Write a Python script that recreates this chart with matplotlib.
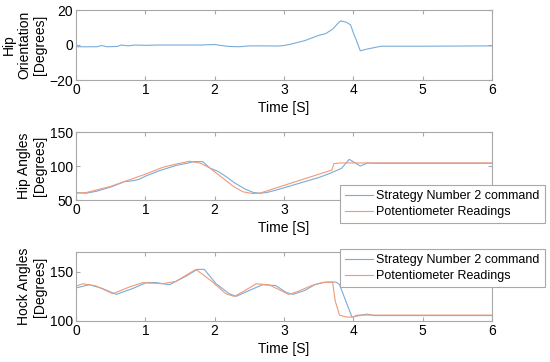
import numpy as np
import matplotlib
matplotlib.use("Agg")
import matplotlib.pyplot as plt

plt.rcParams['font.family'] = ['Liberation Sans', 'DejaVu Sans']

# hip orientation (command only)
t_orient = [0, 0.3, 0.37, 0.45, 0.6, 0.65, 0.75, 0.85, 1.0, 1.2, 1.5, 1.8, 2.0, 2.1, 2.2, 2.35,
            2.5, 2.7, 2.9, 3.0, 3.1, 3.2, 3.3, 3.4, 3.5, 3.6, 3.7, 3.78, 3.82, 3.9, 3.96, 4.0,
            4.05, 4.1, 4.2, 4.3, 4.4, 5.0, 6.0]
v_orient = [-1, -1, -0.3, -1, -0.8, 0, -0.5, 0, -0.2, 0, 0, 0, 0.3, -0.3, -0.8, -1,
            -0.5, -0.5, -0.6, -0.3, 0.5, 1.5, 2.5, 4, 5.5, 6.5, 9, 12.5, 13.8, 13, 11.5, 7,
            2, -3.3, -2.3, -1.5, -0.7, -0.7, -0.5]

# hip angles
t_hip_cmd = [0, 0.15, 0.3, 0.5, 0.7, 0.8, 0.9, 1.0, 1.2, 1.45, 1.6, 1.7, 1.83, 1.93,
             2.05, 2.17, 2.29, 2.44, 2.56, 2.65, 2.75, 2.9, 3.1, 3.3, 3.5, 3.66, 3.83,
             3.94, 4.02, 4.1, 4.21, 4.3, 5.0, 6.0]
v_hip_cmd = [61, 60, 63, 69, 77, 78, 80, 85, 93, 101, 104, 106.5, 106.3, 97,
             92, 84, 75, 66, 61, 60, 61, 65, 71, 77, 83, 89, 96.6,
             109.8, 105, 100, 104.5, 104, 104, 104]
t_hip_pot = [0, 0.15, 0.5, 1.0, 1.25, 1.45, 1.64, 1.8, 1.93, 2.12, 2.27, 2.41, 2.55,
             2.65, 3.09, 3.69, 3.72, 3.8, 4.0, 6.0]
v_hip_pot = [60, 61, 70, 88, 98, 103, 107, 104, 97, 82, 70, 62, 59.5,
             60, 74.5, 94, 103.5, 104.5, 104.5, 104.5]

# hock angles
t_hock_cmd = [0, 0.19, 0.38, 0.58, 0.82, 1.01, 1.15, 1.35, 1.59, 1.75, 1.85, 2.02, 2.21,
              2.31, 2.5, 2.69, 2.88, 3.03, 3.13, 3.3, 3.45, 3.6, 3.75, 3.8, 3.98, 4.05,
              4.2, 4.3, 5.0, 6.0]
v_hock_cmd = [133.5, 136.8, 133, 127, 133, 138.9, 139, 136.8, 145.6, 152.4, 152.4, 137.8,
              127.7, 125, 131, 136.8, 136, 129, 127, 131, 137, 139.5, 139.5, 137, 104,
              105, 107, 105.5, 105.5, 105.5]
t_hock_pot = [0, 0.1, 0.29, 0.53, 0.77, 0.96, 1.25, 1.44, 1.73, 1.97, 2.16, 2.28, 2.4,
              2.6, 2.79, 3.07, 3.2, 3.4, 3.55, 3.7, 3.74, 3.8, 3.9, 4.0, 4.05, 6.0]
v_hock_pot = [135.5, 137.8, 135.5, 127.7, 134.5, 138.9, 137.8, 140.2, 152.4, 139.6, 127.7,
              125, 129.4, 137.8, 136.5, 127, 130, 136, 139, 139.5, 120, 106,
              104, 104, 106, 106]

labels = ["Strategy Number 2 command", "Potentiometer Readings"]
c_cmd = '#79acd9'
c_pot = '#f19a78'
grey = '#a8a8a8'

W, H = 550, 362
fig = plt.figure(figsize=(5.5, 3.62), dpi=100)


def make_axes(top, bottom):
    ax = fig.add_axes([76 / W, 1 - bottom / H, (492 - 76) / W, (bottom - top) / H])
    for s in ax.spines.values():
        s.set_color(grey)
        s.set_linewidth(0.8)
    ax.tick_params(direction='in', length=3, color=grey, labelsize=10,
                   top=True, right=True, pad=2)
    ax.set_xlim(0, 6)
    ax.set_xticks(range(7))
    ax.set_xlabel("Time [S]", fontsize=10, labelpad=3)
    return ax


ax1 = make_axes(10, 80)
ax1.plot(t_orient, v_orient, color=c_cmd, lw=0.8)
ax1.set_ylim(-20, 20)
ax1.set_yticks([-20, 0, 20])
ax1.set_ylabel("Hip\nOrientation\n[Degrees]", fontsize=10, linespacing=1.15)
ax1.yaxis.set_label_coords(-0.07, 0.5)

ax2 = make_axes(132, 200)
ax2.plot(t_hip_cmd, v_hip_cmd, color=c_cmd, lw=0.8, label=labels[0])
ax2.plot(t_hip_pot, v_hip_pot, color=c_pot, lw=0.8, label=labels[1])
ax2.set_ylim(50, 150)
ax2.set_yticks([50, 100, 150])
ax2.set_ylabel("Hip Angles\n[Degrees]", fontsize=10, linespacing=1.15)
ax2.yaxis.set_label_coords(-0.07, 0.5)

ax3 = make_axes(252, 321)
ax3.plot(t_hock_cmd, v_hock_cmd, color=c_cmd, lw=0.8, label=labels[0])
ax3.plot(t_hock_pot, v_hock_pot, color=c_pot, lw=0.8, label=labels[1])
ax3.set_ylim(100, 170)
ax3.set_yticks([100, 150])
ax3.set_ylabel("Hock Angles\n[Degrees]", fontsize=10, linespacing=1.15)
ax3.yaxis.set_label_coords(-0.07, 0.5)

for ax, top in [(ax2, 185), (ax3, 249)]:
    leg = ax.legend(loc='upper left', bbox_to_anchor=(340 / W, 1 - top / H),
                    bbox_transform=fig.transFigure, fontsize=9, fancybox=False,
                    framealpha=1, edgecolor=grey, borderpad=0.4, handlelength=2.2,
                    handletextpad=0.3, labelspacing=0.35, borderaxespad=0)
    leg.get_frame().set_linewidth(0.8)

fig.savefig("out.png", dpi=100)
